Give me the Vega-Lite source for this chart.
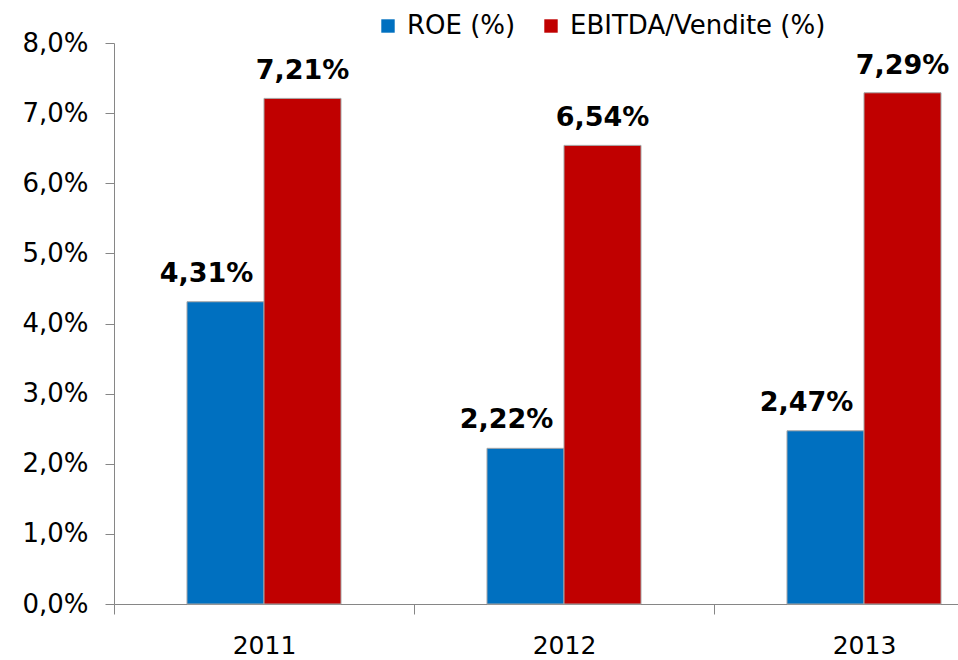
{
  "$schema": "https://vega.github.io/schema/vega-lite/v6.json",
  "autosize": {"type": "none"},
  "padding": {"left": 114, "top": 43, "right": 0, "bottom": 56},
  "width": 844,
  "height": 561,
  "background": "white",
  "config": {
    "locale": {"number": {"decimal": ",", "thousands": ".", "grouping": [3], "currency": ["€", ""]}},
    "view": {"stroke": null},
    "font": "DejaVu Sans"
  },
  "data": {
    "values": [
      {"anno": "2011", "serie": "ROE (%)", "valore": 0.0431},
      {"anno": "2011", "serie": "EBITDA/Vendite (%)", "valore": 0.0721},
      {"anno": "2012", "serie": "ROE (%)", "valore": 0.0222},
      {"anno": "2012", "serie": "EBITDA/Vendite (%)", "valore": 0.0654},
      {"anno": "2013", "serie": "ROE (%)", "valore": 0.0247},
      {"anno": "2013", "serie": "EBITDA/Vendite (%)", "valore": 0.0729}
    ]
  },
  "encoding": {
    "x": {
      "field": "anno", "type": "nominal",
      "scale": {"range": [0, 900], "paddingInner": 0, "paddingOuter": 0},
      "axis": {
        "title": null, "labelAngle": 0, "tickBand": "extent",
        "domainColor": "#868686", "tickColor": "#868686", "tickSize": 10,
        "labelFontSize": 25, "labelColor": "#000000", "labelPadding": 19, "grid": false
      }
    },
    "xOffset": {
      "field": "serie", "type": "nominal",
      "sort": ["ROE (%)", "EBITDA/Vendite (%)"],
      "scale": {"paddingInner": 0, "paddingOuter": 0.948}
    },
    "y": {
      "field": "valore", "type": "quantitative",
      "scale": {"domain": [0, 0.08], "nice": false},
      "axis": {
        "title": null, "format": ".1%", "values": [0, 0.01, 0.02, 0.03, 0.04, 0.05, 0.06, 0.07, 0.08],
        "grid": false, "domainColor": "#868686", "tickColor": "#868686", "tickSize": 9,
        "labelFontSize": 26, "labelColor": "#000000", "labelPadding": 17
      }
    }
  },
  "layer": [
    {
      "mark": {"type": "bar", "stroke": "#a6a6a6", "strokeWidth": 1},
      "encoding": {
        "color": {
          "field": "serie", "type": "nominal",
          "scale": {"domain": ["ROE (%)", "EBITDA/Vendite (%)"], "range": ["#0070C0", "#C00000"]},
          "legend": {
            "title": null, "orient": "none", "direction": "horizontal",
            "legendX": 261, "legendY": -30,
            "symbolType": "square", "symbolSize": 180, "symbolStrokeWidth": 0,
            "labelFontSize": 26, "labelColor": "#000000", "labelOffset": 6,
            "columnPadding": 22, "labelLimit": 400
          }
        }
      }
    },
    {
      "transform": [{"filter": "datum.serie === 'ROE (%)'"}],
      "mark": {"type": "text", "fontWeight": "bold", "fontSize": 27, "baseline": "alphabetic", "dy": -20, "dx": -19, "color": "#000000"},
      "encoding": {"text": {"field": "valore", "type": "quantitative", "format": ".2%"}}
    },
    {
      "transform": [{"filter": "datum.serie === 'EBITDA/Vendite (%)'"}],
      "mark": {"type": "text", "fontWeight": "bold", "fontSize": 27, "baseline": "alphabetic", "dy": -19, "color": "#000000"},
      "encoding": {"text": {"field": "valore", "type": "quantitative", "format": ".2%"}}
    }
  ]
}
